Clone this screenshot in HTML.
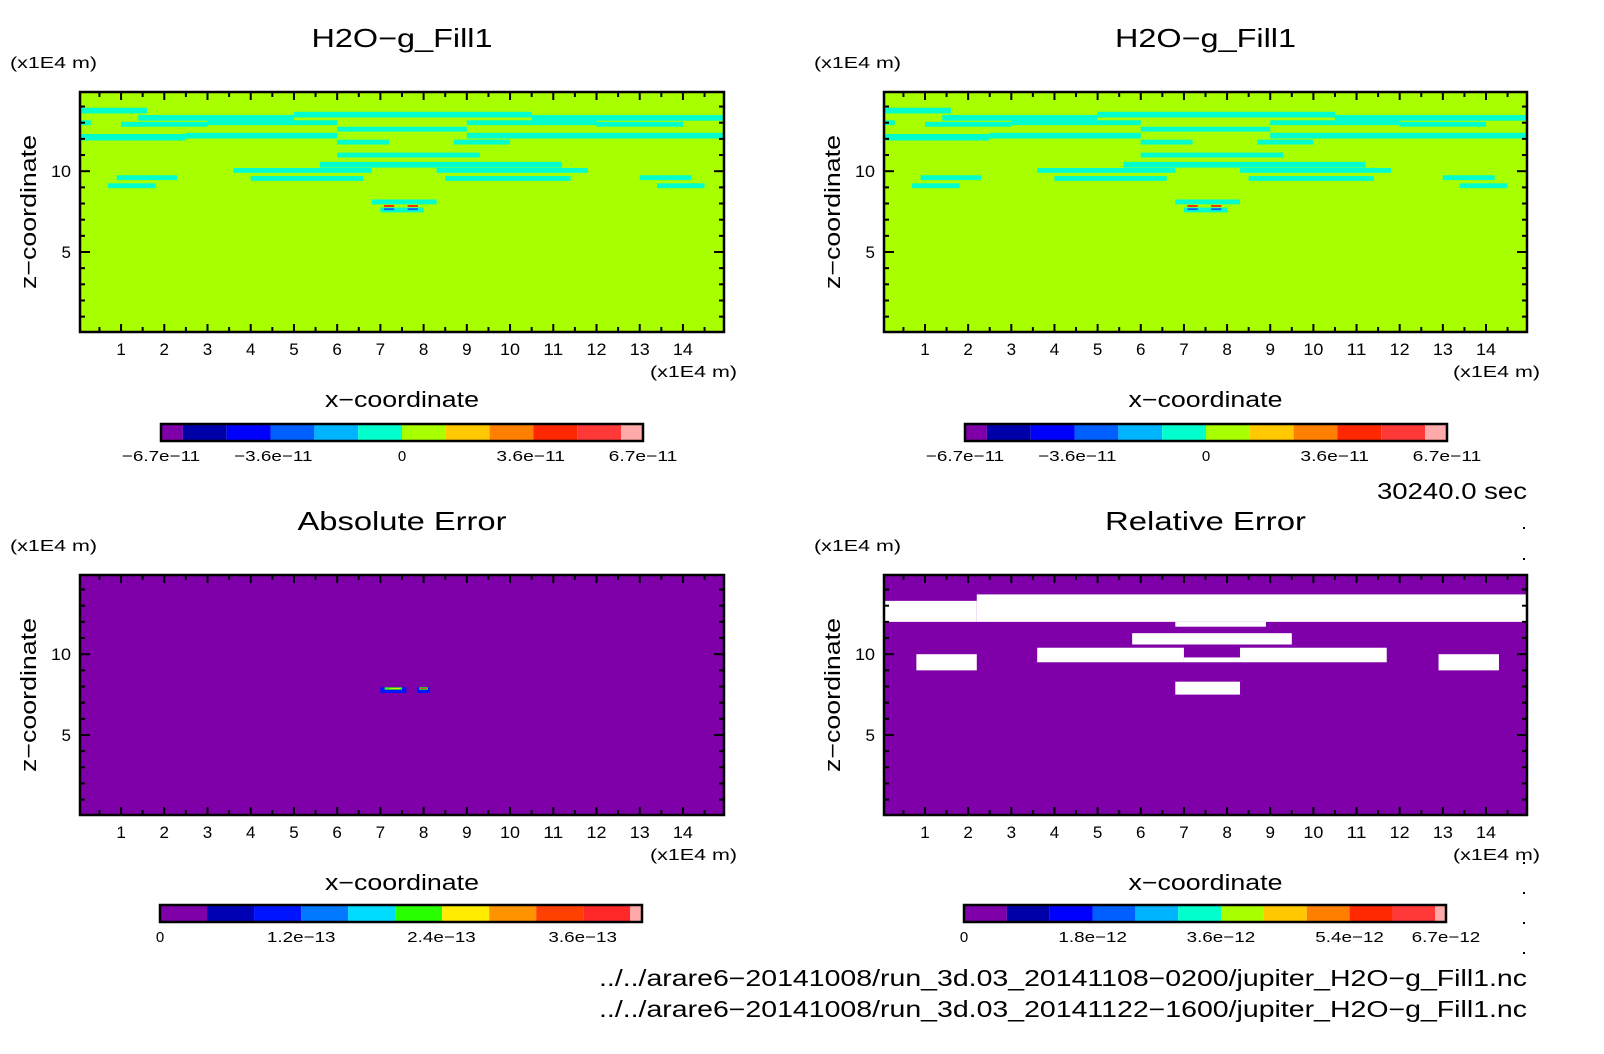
<!DOCTYPE html>
<html><head><meta charset="utf-8"><style>
body{margin:0;background:#fff;}
svg{display:block;font-family:"Liberation Sans",sans-serif;}
</style></head><body>
<svg id="fig" width="1604" height="1054" viewBox="0 0 1604 1054" xmlns="http://www.w3.org/2000/svg"></svg>
<script>
// ---- data ----
const xDomain = [0.05, 14.95];
const zDomain = [0.05, 14.9];
const xTicks = [1,2,3,4,5,6,7,8,9,10,11,12,13,14];
const zTicks = [5,10];
// cyan contour bands in field panels: [x0, x1, z, thickness]
const cyanBands = [
  [0.05,1.6,13.75,0.35],[1.4,5.0,13.3,0.35],[5.0,10.5,13.5,0.35],[10.5,14.95,13.3,0.35],
  [0.05,0.3,13.0,0.3],[1.0,3.0,12.9,0.3],[3.0,6.0,13.0,0.3],[9.0,12.0,13.0,0.3],[12.0,14.0,12.9,0.3],
  [0.05,2.5,12.1,0.4],[2.5,6.0,12.2,0.35],[6.0,9.0,12.6,0.3],[9.0,14.95,12.2,0.35],
  [6.0,7.2,11.8,0.3],[8.7,10.0,11.8,0.3],
  [6.0,9.3,11.0,0.3],[5.6,11.2,10.4,0.35],[3.6,6.8,10.05,0.3],[8.3,11.8,10.05,0.3],
  [4.0,6.6,9.55,0.3],[8.5,11.4,9.55,0.3],
  [0.9,2.3,9.6,0.3],[0.7,1.8,9.1,0.3],[13.0,14.2,9.6,0.3],[13.4,14.5,9.1,0.3],
  [6.8,8.3,8.1,0.3],[7.0,8.0,7.6,0.3]
];
// hot spots in field: [x, z, colorIndex]
const hotSpots = [[7.2,7.85,9],[7.75,7.85,9],[7.2,7.65,3],[7.75,7.65,3]];
// relative-error white regions: [x0, x1, z0, z1]
const relWhite = [
  [0.05,2.2,12.0,13.3],[2.2,14.95,12.0,13.7],[6.8,8.9,11.7,12.0],
  [5.8,9.5,10.6,11.3],[3.6,7.0,9.5,10.4],[8.3,11.7,9.5,10.4],[7.0,8.3,9.5,9.8],
  [6.8,8.3,7.5,8.3],[0.8,2.2,9.0,10.0],[12.9,14.3,9.0,10.0]
];
// absolute-error feature: [x0, x1, z0, z1, colorIndex]
const absSpots = [
  [7.0,7.6,7.6,7.95,2],[7.1,7.5,7.8,7.95,5],[7.2,7.45,7.85,7.9,6],
  [7.85,8.15,7.6,7.95,2],[7.9,8.1,7.8,7.95,5],[7.92,8.08,7.85,7.9,9]
];
const cbFieldColors = ["#7f00a8","#0000a8","#0000ff","#0060ff","#00b4ff","#00ffcc","#a8ff00","#ffc800","#ff8000","#ff2800","#ff3838","#ffaaaa"];
const cbAbsColors = ["#7f00a8","#0000b4","#0014ff","#0078ff","#00dcff","#28ff00","#ffec00","#ff9400","#ff4000","#ff2828","#ffaaaa"];
const cbFieldLabels = ["-6.7e-11","-3.6e-11","0","3.6e-11","6.7e-11"];
const cbAbsLabels = ["0","1.2e-13","2.4e-13","3.6e-13"];
const cbRelLabels = ["0","1.8e-12","3.6e-12","5.4e-12","6.7e-12"];

const NS="http://www.w3.org/2000/svg";
const svg=document.getElementById('fig');
function mk(tag,attrs,parent){const e=document.createElementNS(NS,tag);for(const k in attrs)e.setAttribute(k,attrs[k]);(parent||svg).appendChild(e);return e;}
function txt(s,x,y,size,anchor,parent,len){const t=mk('text',{x:x,y:y,'font-size':size,'text-anchor':anchor||'start',fill:'#000'},parent);if(len){t.setAttribute('textLength',len);t.setAttribute('lengthAdjust','spacingAndGlyphs');}t.textContent=s;return t;}

function panel(px,py,pw,ph,kind,title,titleLen,name){
  const g=mk('g',{});
  
  
  const sx=v=>px+(v-xDomain[0])/(xDomain[1]-xDomain[0])*pw;
  const sz=v=>py+ph-(v-zDomain[0])/(zDomain[1]-zDomain[0])*ph;
  const bg = kind==='field' ? '#a8ff00' : '#7f00a8';
  const b=mk('rect',{x:px,y:py,width:pw,height:ph,fill:bg},g);
  
  
  if(kind==='field'){
    cyanBands.forEach(d=>{const r=mk('rect',{x:sx(d[0]),y:sz(d[2]+d[3]/2),width:sx(d[1])-sx(d[0]),height:sz(d[2]-d[3]/2)-sz(d[2]+d[3]/2),fill:'#00ffcc'},g);
      
      });
    hotSpots.forEach(d=>{const r=mk('rect',{x:sx(d[0]-0.12),y:sz(d[1]+0.06),width:sx(d[0]+0.12)-sx(d[0]-0.12),height:sz(d[1]-0.06)-sz(d[1]+0.06),fill:cbFieldColors[d[2]]},g);
      
      });
  } else if(kind==='rel'){
    relWhite.forEach(d=>{const r=mk('rect',{x:sx(d[0]),y:sz(d[3]),width:sx(d[1])-sx(d[0]),height:sz(d[2])-sz(d[3]),fill:'#fff'},g);
      
      });
  } else {
    absSpots.forEach(d=>{const r=mk('rect',{x:sx(d[0]),y:sz(d[3]),width:sx(d[1])-sx(d[0]),height:sz(d[2])-sz(d[3]),fill:cbAbsColors[d[4]]},g);
      
      });
  }
  for(let v=0.5; v<15; v+=0.5){const X=sx(v);const L=(Math.abs(v-Math.round(v))<1e-6)?8:5;
    mk('line',{x1:X,y1:py+ph,x2:X,y2:py+ph-L,stroke:'#000','stroke-width':2},g);
    mk('line',{x1:X,y1:py,x2:X,y2:py+L,stroke:'#000','stroke-width':2},g);}
  for(let v=1; v<15; v+=1){const Y=sz(v);const L=(v%5===0)?10:5;
    mk('line',{x1:px,y1:Y,x2:px+L,y2:Y,stroke:'#000','stroke-width':2},g);
    mk('line',{x1:px+pw,y1:Y,x2:px+pw-L,y2:Y,stroke:'#000','stroke-width':2},g);}
  const fr=mk('rect',{x:px,y:py,width:pw,height:ph,fill:'none',stroke:'#000','stroke-width':2.5},g);
  
  
  xTicks.forEach(v=>{const t=txt(String(v),sx(v),py+ph+23,17,'middle',g,v>=10?20:null);
    
    });
  zTicks.forEach(v=>{const t=txt(String(v),px-9,sz(v)+6,17,'end',g,v>=10?20:null);
    
    });
  const cx=px+pw/2;
  const tt=txt(title,cx,py-45,26,'middle',g,titleLen);
  
  
  const zu=txt('(x1E4 m)',px-70,py-24,16,'start',g,87);
  
  
  const xu=txt('(x1E4 m)',px+pw+13,py+ph+45,16,'end',g,87);
  
  
  const xl=txt('x\u2212coordinate',cx,py+ph+75,22,'middle',g,154);
  
  
  const zl=txt('z\u2212coordinate',0,0,22,'middle',g,154);
  zl.setAttribute('transform','translate('+(px-44)+','+(py+ph/2)+') rotate(-90)');
  
  
  return {cx:cx};
}

function colorbar(x0,x1,y,colors,labels,labelPos,halfEnds,name){
  const g=mk('g',{});
  
  
  const n=colors.length; const w=x1-x0;
  let edges=[];
  if(halfEnds){const u=w/(n-1);edges.push(x0);for(let i=1;i<n;i++)edges.push(x0+u*(i-0.5));edges.push(x1);}
  else{const u=w/(n-1+0.25);for(let i=0;i<n;i++)edges.push(x0+u*i);edges.push(x1);}
  colors.forEach((c,i)=>{const r=mk('rect',{x:edges[i],y:y,width:edges[i+1]-edges[i],height:17,fill:c},g);
    
    });
  mk('rect',{x:x0,y:y,width:w,height:17,fill:'none',stroke:'#000','stroke-width':2.5},g);
  labels.forEach((s,i)=>{const str=s.replace('-','\u2212').replace('e-','e\u2212');const len=str.length>1?str.length*9.8:null;
    const t=txt(str,x0+labelPos[i]*w,y+37,15,'middle',g,len);
    
    });
}

panel(80,92,644,240,'field','H2O\u2212g_Fill1',181,'panel-field-1');
panel(884,92,643,240,'field','H2O\u2212g_Fill1',181,'panel-field-2');
panel(80,575,644,240,'abs','Absolute Error',209,'panel-absolute-error');
panel(884,575,643,240,'rel','Relative Error',201,'panel-relative-error');

colorbar(161,643,424,cbFieldColors,cbFieldLabels,[0,0.233,0.5,0.767,1],true,'colorbar-field-1');
colorbar(965,1447,424,cbFieldColors,cbFieldLabels,[0,0.233,0.5,0.767,1],true,'colorbar-field-2');
colorbar(160,642,905,cbAbsColors,cbAbsLabels,[0,0.293,0.584,0.877],false,'colorbar-absolute');
colorbar(964,1446,905,cbFieldColors,cbRelLabels,[0,0.267,0.533,0.8,1],false,'colorbar-relative');

const tm=txt('30240.0 sec',1527,499,23,'end',null,150);


const f1=txt('../../arare6\u221220141008/run_3d.03_20141108\u22120200/jupiter_H2O\u2212g_Fill1.nc',1527,986,23,'end',null,928);


const f2=txt('../../arare6\u221220141008/run_3d.03_20141122\u22121600/jupiter_H2O\u2212g_Fill1.nc',1527,1017,23,'end',null,928);


[527,558,862,892,922,952].forEach(y=>{const d=mk('rect',{x:1523,y:y,width:2,height:2,fill:'#000'});
  
  });
</script>
</body></html>
